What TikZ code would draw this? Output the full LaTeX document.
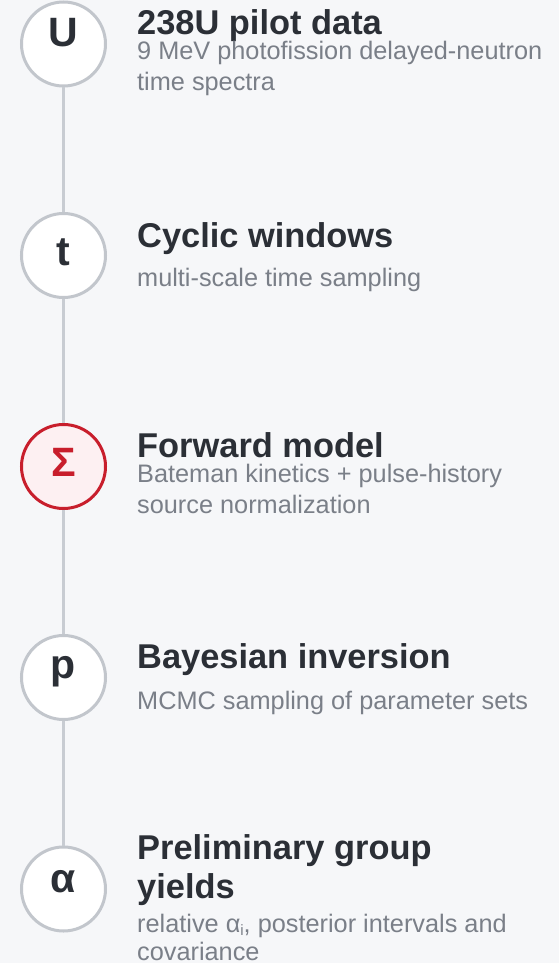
\documentclass[tikz,border=0pt]{standalone}
\usepackage{fontspec}
\setmainfont{Liberation Sans}
\definecolor{bg}{HTML}{F6F7F9}
\definecolor{ring}{HTML}{C2C6CC}
\definecolor{rail}{HTML}{C8CCD2}
\definecolor{ttl}{HTML}{2B2F36}
\definecolor{sub}{HTML}{7A7F88}
\definecolor{accent}{HTML}{C81E2C}
\definecolor{accentfill}{HTML}{FDF0F2}
\begin{document}
\begin{tikzpicture}[x=1pt,y=-1pt,
  stepcircle/.style={circle,draw=ring,line width=3pt,fill=white,minimum size=84pt,inner sep=0pt},
  hotcircle/.style={stepcircle,draw=accent,fill=accentfill},
  lett/.style={anchor=base,inner sep=0pt,text=ttl,font=\fontsize{41}{41}\selectfont\bfseries},
  ttlline/.style={anchor=base west,inner sep=0pt,text=ttl,font=\fontsize{34.4}{38}\selectfont\bfseries},
  subline/.style={anchor=base west,inner sep=0pt,text=sub,font=\fontsize{25.3}{30}\selectfont},
  railline/.style={draw=rail,line width=3pt}]
\fill[bg] (0,0) rectangle (559,963);
\useasboundingbox (0,0) rectangle (559,963);
% circles
\node[stepcircle] (c1) at (63.5,44) {};
\node[stepcircle] (c2) at (63.5,255.5) {};
\node[hotcircle]  (c3) at (63.5,466.5) {};
\node[stepcircle] (c4) at (63.5,677.5) {};
\node[stepcircle] (c5) at (63.5,889) {};
% rail
\draw[railline] (c1) -- (c2);
\draw[railline] (c2) -- (c3);
\draw[railline] (c3) -- (c4);
\draw[railline] (c4) -- (c5);
% letters
\node[lett] (l1) at (63.5,47) {U};
\node[lett] (l2) at (63.5,265) {t};
\node[lett,text=accent] (l3) at (63.5,476) {Σ};
\node[lett] (l4) at (63.5,678) {p};
\node[lett] (l5) at (63.5,892) {α};
% texts
\node[ttlline] (t1) at (137,35) {238U pilot data};
\node[subline] (s1a) at (137,60) {9 MeV photofission delayed-neutron};
\node[subline] (s1b) at (137,90.5) {time spectra};
\node[ttlline] (t2) at (137,247) {Cyclic windows};
\node[subline] (s2a) at (137,286) {multi-scale time sampling};
\node[ttlline] (t3) at (137,457) {Forward model};
\node[subline] (s3a) at (137,482) {Bateman kinetics + pulse-history};
\node[subline] (s3b) at (137,513) {source normalization};
\node[ttlline] (t4) at (137,668) {Bayesian inversion};
\node[subline] (s4a) at (137,709) {MCMC sampling of parameter sets};
\node[ttlline] (t5a) at (137,859) {Preliminary group};
\node[ttlline] (t5b) at (137,898.5) {yields};
\node[subline] (s5a) at (137,932) {relative α\raisebox{-3pt}{\fontsize{15}{15}\selectfont i}, posterior intervals and};
\node[subline] (s5b) at (137,960.5) {covariance};
\end{tikzpicture}
\end{document}
